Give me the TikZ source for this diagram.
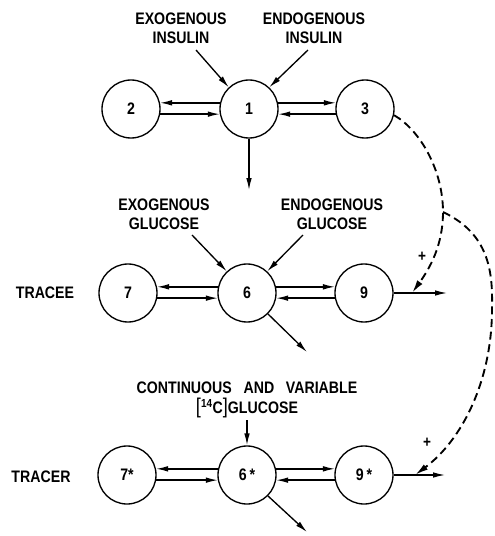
\documentclass[tikz,border=0pt]{standalone}
\usepackage{fontspec}
\setmainfont{Liberation Sans}[FakeStretch=0.85]
\usetikzlibrary{arrows.meta}
\begin{document}
\begin{tikzpicture}[x=0.75pt,y=-0.75pt,
  txt/.style={font=\fontsize{12.5}{14.5}\selectfont\bfseries},
  comp/.style={circle,draw,line width=1pt,minimum size=43.5pt,inner sep=0pt,txt},
  lbl/.style={align=center,inner sep=0pt,txt},
  flow/.style={line width=1pt,-{Latex[length=9pt,width=4.2pt]}},
  ctrl/.style={line width=1.4pt,dash pattern=on 6pt off 3.5pt,-{Latex[length=10pt,width=4.8pt]}},
  plus/.style={font=\fontsize{12}{12}\selectfont\bfseries,inner sep=0pt}]
\useasboundingbox (0,0) rectangle (495,536);
% compartments
\node[comp] (n2) at (131,109) {2};
\node[comp] (n1) at (249,109) {1};
\node[comp] (n3) at (365,109) {3};
\node[comp] (n7) at (128,293) {7};
\node[comp] (n6) at (247,293) {6};
\node[comp] (n9) at (364,293) {9};
\node[comp] (s7) at (127,475) {7*};
\node[comp] (s6) at (247,475) {6\,*};
\node[comp] (s9) at (364,475) {9\,*};
% row labels
\node[lbl] (tracee) at (45,293) {TRACEE};
\node[lbl] (tracer) at (41,477) {TRACER};
% input labels
\node[lbl] (exi) at (181,28) {EXOGENOUS\\INSULIN};
\node[lbl] (eni) at (314,28) {ENDOGENOUS\\INSULIN};
\node[lbl] (exg) at (164,214) {EXOGENOUS\\GLUCOSE};
\node[lbl] (eng) at (332,214) {ENDOGENOUS\\GLUCOSE};
\node[lbl] (trc) at (247,400) {CONTINUOUS\hspace{0.7em}AND\hspace{0.7em}VARIABLE\\{\fontsize{16}{16}\selectfont\mdseries[}\textsuperscript{14}C{\fontsize{16}{16}\selectfont\mdseries]}GLUCOSE};
% free ends
\coordinate (exis) at (196,50);
\coordinate (enis) at (308,50);
\coordinate (exgs) at (192,235);
\coordinate (engs) at (303,235);
\coordinate (trcs) at (247,420);
\coordinate (o1) at (249,190);
\coordinate (o6) at (307,352);
\coordinate (o9) at (447,293);
\coordinate (os6) at (307,532);
\coordinate (os9) at (445,475);
\coordinate (ta) at (412,293);
\coordinate (tb) at (415,475);
\coordinate (br) at (443,212);
\coordinate (mb) at (492,305);
% inputs
\draw[flow] (exis) -- (n1.133);
\draw[flow] (enis) -- (n1.47);
\draw[flow] (exgs) -- (n6.133);
\draw[flow] (engs) -- (n6.47);
\draw[flow] (trcs) -- (s6.north);
% exchanges
\foreach \a/\b/\c in {n2/n1/n3, n7/n6/n9, s7/s6/s9}{
  \draw[flow] (\b.168) -- (\a.12);
  \draw[flow] (\a.-10) -- (\b.190);
  \draw[flow] (\b.12) -- (\c.168);
  \draw[flow] (\c.190) -- (\b.-10);
}
% outflows
\draw[flow] (n1.south) -- (o1);
\draw[flow] (n6.-45) -- (o6);
\draw[flow] (n9.east) -- (o9);
\draw[flow] (s6.-45) -- (os6);
\draw[flow] (s9.east) -- (os9);
% control
\draw[ctrl] (n3.-12) .. controls (420,130) and (443,170) .. (br)
  .. controls (443,245) and (430,268) .. (ta);
\draw[ctrl] (br) .. controls (485,232) and (493,265) .. (mb)
  .. controls (493,380) and (462,440) .. (tb);
\node[plus] (p1) at (422,257) {+};
\node[plus] (p2) at (427,443) {+};
\end{tikzpicture}
\end{document}
